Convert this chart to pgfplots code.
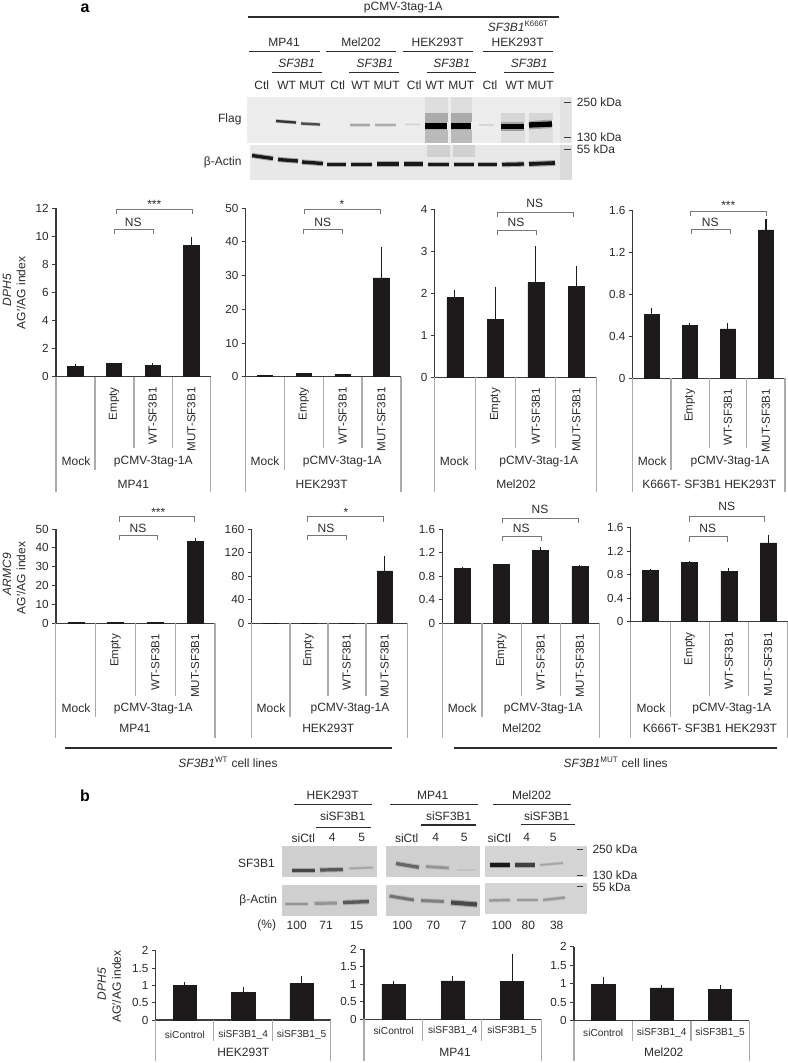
\documentclass[border=0pt]{standalone}
\usepackage{fontspec}
\setmainfont{Liberation Sans}
\usepackage{pgfplots}
\pgfplotsset{compat=1.18}

\definecolor{ink}{HTML}{2B2B2B}
\definecolor{barc}{HTML}{1C1A1A}
\definecolor{axc}{HTML}{3C3C3C}
\definecolor{divc}{HTML}{ABABAB}
\definecolor{brk}{HTML}{777777}

\pgfplotsset{
  panel/.style={
    scale only axis, clip=false, ybar, bar shift=0pt,
    xmin=-0.5, xmax=3.5, ymin=0,
    axis x line*=bottom, axis y line*=left,
    x axis line style={-, line width=1.1pt, color=axc},
    y axis line style={-, line width=0.8pt, color=axc},
    xtick={0,1,2,3}, major x tick style={draw=none},
    xticklabels={,Empty,WT-SF3B1,MUT-SF3B1},
    xticklabel style={rotate=90, anchor=east, font=\fontsize{8.7}{10}\selectfont, text=ink},
    xticklabel shift=1.5pt,
    tick align=outside, major tick length=3pt,
    ytick style={color=axc, line width=0.6pt},
    yticklabel style={font=\fontsize{8.8}{10}\selectfont, text=ink, /pgf/number format/fixed, /pgf/number format/assume math mode=true},
    yticklabel shift=-1pt,
  },
  sipanel/.style={
    xmax=2.5, xtick={0,1,2},
    xticklabels={siControl,siSF3B1\_4,siSF3B1\_5},
    xticklabel style={rotate=-90, anchor=center, font=\fontsize{7.6}{9}\selectfont},
    xticklabel shift=8pt,
  },
}

% [options] x0, y0 (zero line), width, height, ymax, yticks, bar width (all px), data
\newcommand{\panel}[9][]{%
  \pgfmathsetmacro\W{#4*0.75}\pgfmathsetmacro\Hh{#5*0.75}\pgfmathsetmacro\B{#8*0.75}%
  \begin{axis}[panel, at={({#2*0.75pt},{-#3*0.75pt})}, width=\W pt, height=\Hh pt, ymax=#6, ytick={#7}, bar width=\B pt, #1]
    \addplot[fill=barc, draw=barc, line width=0.4pt,
      error bars/.cd, y dir=plus, y explicit, error mark=none,
      error bar style={line width=0.8pt, color=barc}] coordinates {#9};
  \end{axis}}

\newcommand{\lab}[3]{\node[inner sep=0pt, text=ink, font=\fontsize{9}{10}\selectfont] at (#1,#2) {#3};}
\newcommand{\labr}[3]{\node[inner sep=0pt, text=ink, anchor=east, font=\fontsize{9}{10}\selectfont] at (#1,#2) {#3};}
\newcommand{\labl}[3]{\node[inner sep=0pt, text=ink, anchor=west, font=\fontsize{9}{10}\selectfont] at (#1,#2) {#3};}
\newcommand{\rul}[3]{\draw[ink, line width=0.9pt] (#1,#3) -- (#2,#3);}
\newcommand{\dsh}[3]{\draw[axc, line width=0.7pt] (#1,#3) -- (#2,#3);}
\newcommand{\bracket}[3]{\draw[brk, line width=0.7pt] (#1,#3+5) -- (#1,#3) -- (#2,#3) -- (#2,#3+5);}
% x0 x1 x2 x3 x4, zero line, inner end, middle end, outer end
\newcommand{\cells}[9]{\draw[divc, line width=0.8pt]
  (#1,#6) -- (#1,#9) (#5,#6) -- (#5,#9) (#2,#6) -- (#2,#8) (#3,#6) -- (#3,#7) (#4,#6) -- (#4,#7);}

% blot pieces, plotted in a picture-wide pixel axis
\newcommand{\blot}[5]{\addplot[fill=#5, draw=none] coordinates {(#1,#2)(#3,#2)(#3,#4)(#1,#4)} --cycle;}
\newcommand{\band}[6]{%
  \addplot[draw=#5, line width=#6*1.6pt, draw opacity=0.3, line cap=butt] coordinates {(#1,#2)(#3,#4)};
  \addplot[draw=#5, line width=#6*1pt, line cap=butt] coordinates {(#1,#2)(#3,#4)};}

\begin{document}
\begin{tikzpicture}
\useasboundingbox[fill=white] (0,0) rectangle (591pt,-797.25pt);

\begin{axis}[at={(0pt,-797.25pt)}, anchor=south west, scale only axis, width=591pt, height=797.25pt,
  hide axis, xmin=0, xmax=788, ymin=0, ymax=1063, y dir=reverse, clip=false]
  % panel a, Flag
  \blot{247}{97}{572}{143}{black!7}
  \blot{560}{97}{572}{143}{black!11}
  \blot{425}{97}{448}{113}{black!13}
  \blot{425}{113}{448}{122}{black!33}
  \blot{425}{130}{448}{143}{black!27}
  \blot{451}{97}{472}{113}{black!13}
  \blot{451}{113}{472}{122}{black!33}
  \blot{451}{130}{472}{143}{black!27}
  \blot{501}{113}{525}{122}{black!16}
  \blot{501}{130}{525}{143}{black!13}
  \blot{529}{113}{553}{120}{black!16}
  \blot{529}{129}{553}{143}{black!13}
  \band{276}{121}{296}{122.5}{black!80}{1.7}
  \band{301}{123.5}{320}{124.5}{black!70}{1.7}
  \band{350}{125}{370}{125}{black!35}{2}
  \band{375}{125}{396}{125}{black!32}{2}
  \band{405}{124.5}{420}{124.5}{black!18}{1.2}
  \band{425}{126}{447}{126}{black}{4.2}
  \band{451}{126}{471}{126}{black}{4.2}
  \band{479}{125}{494}{125}{black!16}{1.2}
  \band{501}{126.5}{524}{126.5}{black}{4}
  \band{529}{125}{552}{124}{black}{4}
  % panel a, actin
  \blot{250}{145}{572}{179.5}{black!9}
  \blot{427}{145}{450}{157}{black!18}
  \blot{453}{145}{475}{157}{black!18}
  \blot{560}{145}{572}{179.5}{black!14}
  \band{252}{155.5}{273}{158.5}{black!90}{2.5}
  \band{278}{159.5}{298}{161}{black!90}{2.5}
  \band{302}{162}{323}{163.5}{black!90}{2.5}
  \band{327}{164.5}{346}{164.5}{black!90}{2.8}
  \band{351}{164.5}{372}{164.5}{black!90}{2.5}
  \band{377}{164}{399}{164}{black!90}{2.5}
  \band{404}{164}{423}{164}{black!90}{2.4}
  \band{428}{164.5}{449}{164.5}{black!90}{2.5}
  \band{454}{164.5}{474}{164.5}{black!90}{2.8}
  \band{478}{164.5}{497}{164.5}{black!90}{2.4}
  \band{502}{164.5}{524}{164}{black!90}{2.5}
  \band{529}{164}{555}{163}{black!90}{2.8}
  % panel b, SF3B1
  \blot{282.3}{846}{377.3}{877.3}{black!19}
  \blot{386}{846}{480}{877.3}{black!19}
  \blot{485.3}{845.7}{586.7}{876.7}{black!17}
  \band{292}{870.7}{315}{870.7}{black!72}{2.6}
  \band{320}{870}{343}{869.5}{black!65}{2.4}
  \band{349}{868.5}{373}{867.5}{black!35}{1.4}
  \band{396}{863.5}{419}{867.3}{black!60}{2.4}
  \band{426}{866.5}{449}{868}{black!42}{2}
  \band{457}{870}{476}{870}{black!24}{1}
  \band{489.5}{865}{510}{865}{black!90}{2.6}
  \band{514.5}{865}{535}{865}{black!75}{2.4}
  \band{540}{865}{563}{863}{black!35}{1.4}
  % panel b, actin
  \blot{282.3}{884.7}{377.3}{916}{black!19}
  \blot{386}{884.7}{480}{916}{black!19}
  \blot{485.3}{882.7}{586.7}{914}{black!17}
  \band{285}{904}{308}{904}{black!42}{2.2}
  \band{314.5}{903.5}{337}{903}{black!42}{2.2}
  \band{343}{902.5}{369}{901.5}{black!65}{2.5}
  \band{389.5}{896}{414}{900}{black!55}{2.2}
  \band{421}{900.5}{444}{901.5}{black!50}{2.2}
  \band{451}{902.5}{477}{904.5}{black!72}{3}
  \band{489}{900.5}{510}{900}{black!40}{1.8}
  \band{516.5}{900}{538}{900}{black!40}{1.8}
  \band{543}{900}{565}{897.5}{black!40}{1.8}
\end{axis}

% DPH5 row
\panel{56}{376.7}{154.7}{168.7}{12}{0,2,...,12}{15.3}{(0,0.75) +- (0,0.15) (1,0.95) +- (0,0.06) (2,0.8) +- (0,0.15) (3,9.35) +- (0,0.6)}
\panel{245.7}{376.7}{155}{168.7}{50}{0,10,...,50}{15.3}{(0,0.4) +- (0,0.1) (1,0.9) +- (0,0.12) (2,0.7) +- (0,0.2) (3,29.3) +- (0,9.2)}
\panel{434.7}{377.3}{162}{168.3}{4}{0,1,...,4}{16}{(0,1.9) +- (0,0.17) (1,1.37) +- (0,0.78) (2,2.25) +- (0,0.87) (3,2.17) +- (0,0.47)}
\panel{632.7}{378.3}{152.3}{168.3}{1.6}{0,0.4,0.8,1.2,1.6}{15.3}{(0,0.605) +- (0,0.06) (1,0.5) +- (0,0.03) (2,0.47) +- (0,0.06) (3,1.41) +- (0,0.1)}
% ARMC9 row
\panel{56}{623.3}{159}{94.3}{50}{0,10,...,50}{16}{(0,0.6) +- (0,0.2) (1,0.6) +- (0,0.2) (2,0.6) +- (0,0.1) (3,43.5) +- (0,1.5)}
\panel[xmax=3.595]{251.7}{623.3}{155.6}{94.3}{160}{0,40,...,160}{15.3}{(0,0.2) +- (0,0.1) (1,0.2) +- (0,0.1) (2,0.2) +- (0,0.1) (3,89) +- (0,25)}
\panel{442.5}{623.3}{157}{94.3}{1.6}{0,0.4,0.8,1.2,1.6}{16}{(0,0.93) +- (0,0.03) (1,1.0) +- (0,0.005) (2,1.235) +- (0,0.065) (3,0.965) +- (0,0.03)}
\panel{630.7}{621.7}{157}{94.4}{1.6}{0,0.4,0.8,1.2,1.6}{16}{(0,0.865) +- (0,0.02) (1,1.0) +- (0,0.03) (2,0.855) +- (0,0.05) (3,1.335) +- (0,0.14)}
% siRNA row
\panel[sipanel]{155.7}{1020}{175}{69.3}{2}{0,0.5,1,1.5,2}{23.3}{(0,1.0) +- (0,0.1) (1,0.8) +- (0,0.14) (2,1.05) +- (0,0.22)}
\panel[sipanel, xticklabel shift=6pt]{364}{1019.3}{177.7}{70}{2}{0,0.5,1,1.5,2}{23.3}{(0,1.0) +- (0,0.1) (1,1.1) +- (0,0.13) (2,1.08) +- (0,0.79)}
\panel[sipanel, xticklabel shift=6pt]{574}{1020.7}{175.3}{74}{2}{0,0.5,1,1.5,2}{23.3}{(0,0.99) +- (0,0.19) (1,0.89) +- (0,0.08) (2,0.85) +- (0,0.11)}

\begin{scope}[x=0.75pt, y=-0.75pt]
% cell line dividers
\cells{56}{95}{134}{172.7}{210.7}{376.7}{448.3}{470}{491.7}
\cells{245.7}{284.5}{323.3}{362}{401}{376.7}{448.3}{470}{491.7}
\cells{434.7}{475.3}{515.7}{555.7}{596.7}{377.3}{448.3}{470}{491.7}
\cells{632.7}{671}{709.3}{746.7}{785}{378.3}{448.3}{470}{491.7}
\cells{55.3}{95.7}{135.3}{175.3}{215}{623.3}{696}{716.7}{738.3}
\cells{251.7}{290}{328}{366}{407.3}{623.3}{696}{716.7}{738.3}
\cells{442.7}{482}{521.3}{560.3}{599.3}{623.3}{696}{716.7}{738.3}
\cells{630.7}{670.3}{709.3}{748.3}{787.7}{621.7}{696}{716.7}{738.3}
\draw[divc, line width=0.8pt]
  (155.7,1020) -- (155.7,1061) (213.3,1020) -- (213.3,1041) (272.3,1020) -- (272.3,1041) (330.7,1020) -- (330.7,1061)
  (364,1019.3) -- (364,1061) (422.7,1019.3) -- (422.7,1041) (481.7,1019.3) -- (481.7,1041) (541.7,1019.3) -- (541.7,1061)
  (574,1020.7) -- (574,1061) (632.3,1020.7) -- (632.3,1041) (691,1020.7) -- (691,1041) (749.3,1020.7) -- (749.3,1061);

% brackets
\bracket{114.3}{153}{229.3}\bracket{116.3}{192}{209}
\bracket{303.3}{342.3}{229.3}\bracket{304}{380}{209}
\bracket{497.3}{536.3}{230.3}\bracket{497.3}{573.3}{212}
\bracket{691.7}{730.3}{229.3}\bracket{690.3}{766}{211}
\bracket{119}{157.7}{535}\bracket{119}{194.7}{516.7}
\bracket{307.3}{346}{535}\bracket{307.3}{383}{516.7}
\bracket{502.3}{541}{536}\bracket{502.3}{578.3}{518}
\bracket{689}{727.3}{536.7}\bracket{689}{764.3}{516.7}
\lab{133.3}{222}{NS}\lab{154.3}{204}{***}
\lab{322.7}{222}{NS}\lab{342}{204}{*}
\lab{516}{222.7}{NS}\lab{534.7}{203.3}{NS}
\lab{710.3}{222}{NS}\lab{728.3}{205}{***}
\lab{138}{528}{NS}\lab{158.3}{512}{***}
\lab{326}{528}{NS}\lab{346}{512}{*}
\lab{521.3}{528.7}{NS}\lab{540}{509.3}{NS}
\lab{707.7}{528}{NS}\lab{726.7}{506.7}{NS}

% y titles
\node[rotate=90, inner sep=0pt, text=ink, font=\fontsize{9}{10}\selectfont\itshape] at (7,290) {DPH5};
\node[rotate=90, inner sep=0pt, text=ink, font=\fontsize{9}{10}\selectfont] at (21,293) {AG′/AG index};
\node[rotate=90, inner sep=0pt, text=ink, font=\fontsize{9}{10}\selectfont\itshape] at (7,574) {ARMC9};
\node[rotate=90, inner sep=0pt, text=ink, font=\fontsize{9}{10}\selectfont] at (21,578) {AG′/AG index};
\node[rotate=90, inner sep=0pt, text=ink, font=\fontsize{9}{10}\selectfont\itshape] at (101.7,984.3) {DPH5};
\node[rotate=90, inner sep=0pt, text=ink, font=\fontsize{9}{10}\selectfont] at (116.7,986.7) {AG′/AG index};

% labels under the bars
\lab{76}{461.7}{Mock}\lab{153.3}{461.7}{pCMV-3tag-1A}\lab{133.3}{484}{MP41}
\lab{265}{461.7}{Mock}\lab{342.3}{461.7}{pCMV-3tag-1A}\lab{321.7}{484}{HEK293T}
\lab{454.3}{461.7}{Mock}\lab{538.7}{461.7}{pCMV-3tag-1A}\lab{516}{484}{Mel202}
\lab{652.3}{461.7}{Mock}\lab{730}{461.7}{pCMV-3tag-1A}\lab{709.3}{484}{K666T- SF3B1 HEK293T}
\lab{76}{708.7}{Mock}\lab{153.3}{708.7}{pCMV-3tag-1A}\lab{135}{728.3}{MP41}
\lab{271}{708.7}{Mock}\lab{350}{708.7}{pCMV-3tag-1A}\lab{328.3}{728.3}{HEK293T}
\lab{462.3}{708.7}{Mock}\lab{543.3}{708.7}{pCMV-3tag-1A}\lab{521.7}{728.3}{Mel202}
\lab{651}{708.7}{Mock}\lab{731.7}{708.7}{pCMV-3tag-1A}\lab{710}{728.3}{K666T- SF3B1 HEK293T}
\lab{243.3}{1052.3}{HEK293T}\lab{455}{1052.3}{MP41}\lab{663.7}{1052.3}{Mel202}

\draw[ink, line width=1.2pt] (65,747.7) -- (391.7,747.7) (454,747.7) -- (776.7,747.7);
\lab{228}{762.3}{\textit{SF3B1}\textsuperscript{WT} cell lines}
\lab{615.7}{762.3}{\textit{SF3B1}\textsuperscript{MUT} cell lines}

% panel a header
\node[inner sep=0pt, text=black, font=\fontsize{12}{14}\selectfont\bfseries] at (85,8) {a};
\node[inner sep=0pt, text=black, font=\fontsize{12}{14}\selectfont\bfseries] at (85,796) {b};
\lab{403.3}{8}{pCMV-3tag-1A}\rul{248.3}{559}{17}
\lab{284}{42.3}{MP41}\lab{361}{42.3}{Mel202}\lab{437.7}{42.3}{HEK293T}\lab{517.7}{42.3}{HEK293T}
\lab{518.3}{26.7}{\textit{SF3B1}\textsuperscript{K666T}}
\rul{249.3}{320}{51.7}\rul{326}{396}{51.7}\rul{402.7}{472.7}{51.7}\rul{483.3}{553.3}{51.7}
\lab{296.7}{63.3}{\textit{SF3B1}}\lab{375}{63.3}{\textit{SF3B1}}\lab{451.7}{63.3}{\textit{SF3B1}}\lab{529.3}{63.3}{\textit{SF3B1}}
\rul{272}{321.7}{72.7}\rul{349.3}{399}{72.7}\rul{426.7}{476}{72.7}\rul{504.3}{554.3}{72.7}
\lab{261.7}{85}{Ctl}\lab{286.7}{85}{WT}\lab{312.3}{85}{MUT}
\lab{337.7}{85}{Ctl}\lab{360.7}{85}{WT}\lab{386.7}{85}{MUT}
\lab{414.3}{85}{Ctl}\lab{435}{85}{WT}\lab{461.3}{85}{MUT}
\lab{490}{85}{Ctl}\lab{515}{85}{WT}\lab{540.7}{85}{MUT}
\labr{241.7}{119}{Flag}\labr{241.7}{162.3}{β-Actin}
\dsh{564}{570.7}{102.3}\dsh{564}{570.7}{137.3}\dsh{564}{570.7}{149.3}
\labl{576.7}{102.3}{250 kDa}\labl{576.7}{137.3}{130 kDa}\labl{576.7}{149.3}{55 kDa}

% panel b header
\lab{332.7}{795.7}{HEK293T}\lab{432.7}{795.7}{MP41}\lab{531.7}{795.7}{Mel202}
\rul{294}{372.3}{804.7}\rul{390}{477.7}{804.7}\rul{493.3}{571}{804.7}
\lab{342.7}{816.7}{siSF3B1}\lab{448.7}{816.7}{siSF3B1}\lab{546.7}{816.7}{siSF3B1}
\rul{316}{370.7}{827.7}\rul{421}{476}{825}\rul{520.7}{575}{824.3}
\lab{303.3}{837.7}{siCtl}\lab{332.3}{837.7}{4}\lab{361.7}{837.7}{5}
\lab{406.7}{837.7}{siCtl}\lab{435.7}{837.7}{4}\lab{464.3}{837.7}{5}
\lab{499.3}{837.7}{siCtl}\lab{526.7}{837.7}{4}\lab{553.3}{837.7}{5}
\labr{275}{863.3}{SF3B1}\labr{277.3}{900.7}{β-Actin}
\dsh{576.7}{583.3}{849}\dsh{576.7}{583.3}{875}\dsh{576.7}{583.3}{886}
\labl{592.3}{849}{250 kDa}\labl{592.3}{875}{130 kDa}\labl{592.3}{887.3}{55 kDa}
\lab{266.7}{925.3}{(\%)}
\lab{296.7}{925.3}{100}\lab{326}{925.3}{71}\lab{356.7}{925.3}{15}
\lab{402.3}{925.3}{100}\lab{433.3}{925.3}{70}\lab{463.3}{925.3}{7}
\lab{501.7}{925.3}{100}\lab{528.3}{925.3}{80}\lab{556.7}{925.3}{38}
\end{scope}
\end{tikzpicture}
\end{document}
